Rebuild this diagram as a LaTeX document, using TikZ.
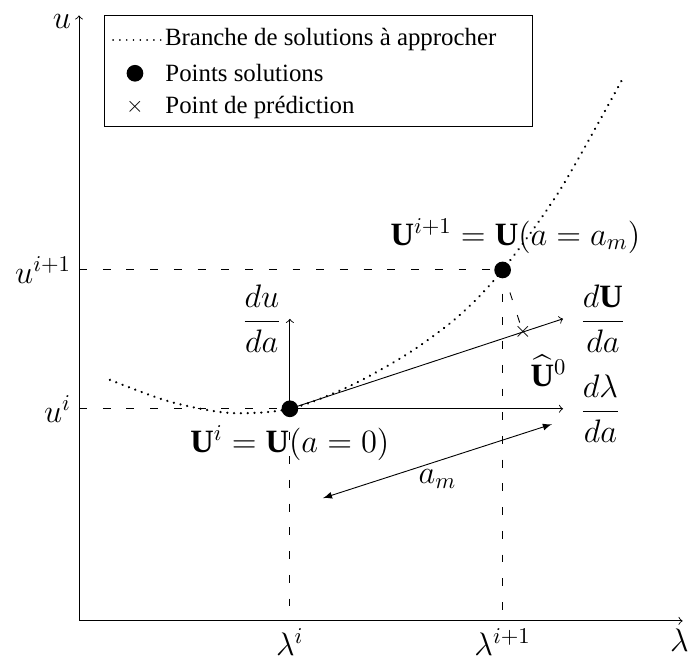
\documentclass[tikz,border=0pt]{standalone}
\usepackage{amsmath}
\usepackage{fontspec}
\setmainfont{Liberation Serif}

\begin{document}
\begin{tikzpicture}[
    dot/.style={circle,fill=black,minimum size=0.26cm,inner sep=0pt},
    guide/.style={dash pattern=on 3.5pt off 7pt},
    branch/.style={line width=1.1pt,dash pattern=on 0.01pt off 3pt,line cap=round},
    lbl/.style={font=\Large},
    legtext/.style={font=\fontsize{11}{13}\selectfont}]
\useasboundingbox (-1.23,-0.67) rectangle (9.49,9.66);

% axes
\coordinate (O) at (0,0);
\coordinate (xend) at (9.39,0);
\coordinate (yend) at (0,9.42);
\draw[->] (O) -- (xend) node[below,lbl,xshift=-0.5mm] {$\lambda$};
\draw[->] (O) -- (yend) node[left,lbl,yshift=-1mm] {$u$};

\coordinate (Ui) at (3.28,3.30);
\coordinate (Uj) at (6.59,5.46);
\coordinate (ui) at (0,3.30);
\coordinate (uj) at (0,5.46);
\coordinate (li) at (3.28,0);
\coordinate (lj) at (6.59,0);

\draw[guide] (ui) node[left,lbl] {$u^i$} -- (Ui);
\draw[guide] (uj) node[left,lbl] {$u^{i+1}$} -- (Uj);
\draw[guide] (Ui) -- (li) node[below,lbl] {$\lambda^i$};
\draw[guide] (Uj) -- (lj) node[below,lbl] {$\lambda^{i+1}$};

% branche
\draw[branch] plot[smooth] coordinates {(0.48,3.75) (1.415,3.41) (2.35,3.235)
    (Ui) (4.215,3.655) (5.15,4.18) (5.925,4.76) (Uj) (7.48,6.70) (8.46,8.44)};

% tangente
\coordinate (du) at (3.28,4.70);
\coordinate (dl) at (7.53,3.30);
\coordinate (dU) at (7.53,4.70);
\draw[->] (Ui) -- (du) node[left,lbl] {$\dfrac{du}{da}$};
\draw[->] (Ui) -- (dl) node[right=2.6mm,inner sep=0pt,lbl] {$\dfrac{d\lambda}{da}$};
\draw[->] (Ui) -- (dU) node[right=2.6mm,inner sep=0pt,lbl] {$\dfrac{d\mathbf{U}}{da}$};

% prediction
\node[inner sep=0pt] (pred) at (6.905,4.49) {$\times$};
\draw[guide] (Uj) -- (pred);
\node[lbl,inner sep=0pt] (hatU) at ([shift={(0.4,-0.6)}]pred) {$\widehat{\mathbf{U}}^0$};

\coordinate (am1) at (3.795,1.91);
\coordinate (am2) at (7.356,3.06);
\draw[latex-latex] (am1) -- node[below,lbl] {$a_m$} (am2);

\node[dot] (Pi) at (Ui) {};
\node[dot] (Pj) at (Uj) {};
\node[below,lbl] at (Pi.south) {$\mathbf{U}^i=\mathbf{U}(a=0)$};
\node[above,lbl,xshift=2mm] at (Pj.north) {$\mathbf{U}^{i+1}=\mathbf{U}(a=a_m)$};

% legende
\draw (0.40,7.69) rectangle (7.06,9.42);
\coordinate (l1) at (0.53,9.04);
\coordinate (l2) at (1.29,9.04);
\draw[branch,line width=0.8pt] (l1) -- (l2) node[right,inner sep=1pt,legtext] {Branche de solutions à approcher};
\node[dot] (ldot) at (0.87,8.52) {};
\node[right,legtext] at (1.22,8.52) {Points solutions};
\node[inner sep=0pt] (lx) at (0.87,7.99) {$\times$};
\node[right,legtext] at (1.22,7.99) {Point de prédiction};
\end{tikzpicture}
\end{document}
